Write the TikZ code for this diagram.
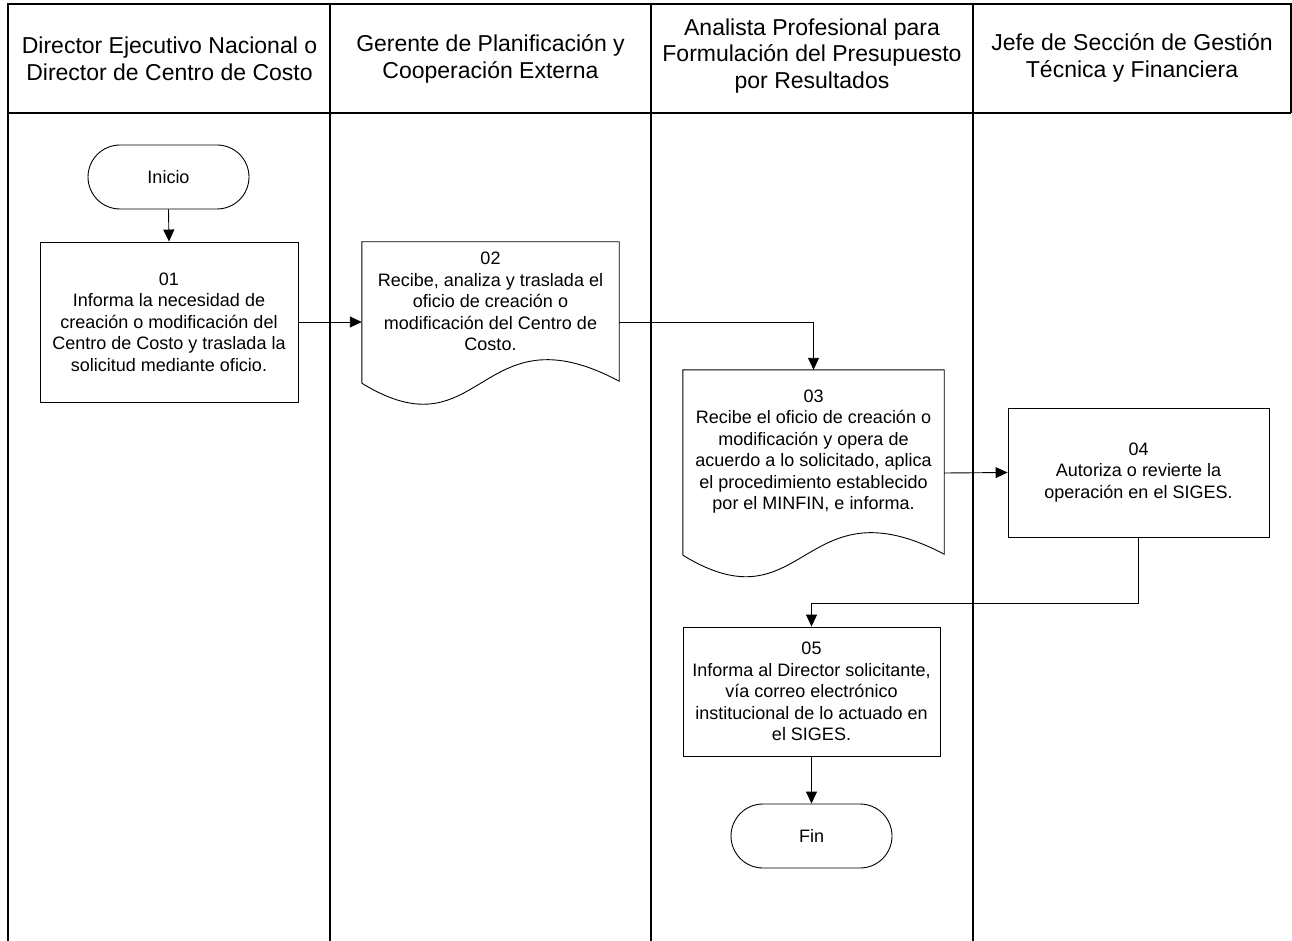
\documentclass[tikz,border=0pt]{standalone}
\usepackage{fontspec}
\setmainfont{Liberation Sans}
\usetikzlibrary{arrows.meta,calc}
\begin{document}
\begin{tikzpicture}[x=1pt,y=-1pt,
  frame/.style={line width=1.1pt, draw=black},
  hdr/.style={font=\fontsize{23}{26.5}\selectfont, align=center, inner sep=0pt},
  body/.style={font=\fontsize{18}{21.5}\selectfont, align=center},
  box/.style={body, draw, rectangle, line width=0.9pt, inner sep=0pt},
  term/.style={body, draw, rectangle, rounded corners=32pt, line width=0.9pt, minimum width=161pt, minimum height=64pt},
  docframe/.style={rectangle, inner sep=0pt},
  outline/.style={line width=0.9pt},
  link/.style={line width=0.9pt},
  arr/.style={line width=0.9pt, -{Triangle[length=12pt,width=11pt]}}]
\useasboundingbox (0,0) rectangle (1292,941);
% swimlane frame
\draw[frame] (8,941) -- (8,4) -- (1291,4) -- (1291,113);
\draw[frame] (8,113) -- (1291,113);
\draw[frame] (330,4) -- (330,941);
\draw[frame] (651,4) -- (651,941);
\draw[frame] (973,4) -- (973,941);
% headers
\node[hdr] (h1) at (169.5,59) {Director Ejecutivo Nacional o\\Director de Centro de Costo};
\node[hdr] (h2) at (490.5,59) {Gerente de Planificación y\\Cooperación Externa};
\node[hdr] (h3) at (812,56) {Analista Profesional para\\Formulación del Presupuesto\\por Resultados};
\node[hdr] (h4) at (1132,58) {Jefe de Sección de Gestión\\Técnica y Financiera};
% nodes
\node[term] (ini) at (168.5,177) {Inicio};
\node[box, minimum width=258pt, minimum height=160pt] (d01) at (169,322)
  {01\\Informa la necesidad de\\creación o modificación del\\Centro de Costo y traslada la\\solicitud mediante oficio.};
\node[docframe, minimum width=257pt, minimum height=160pt] (d02) at (490.5,322) {};
\node[body] (t02) at (490.5,301.5) {02\\Recibe, analiza y traslada el\\oficio de creación o\\modificación del Centro de\\Costo.};
\draw[outline] ($(d02.south west)+(0,-19)$) -- (d02.north west) -- (d02.north east) -- ($(d02.south east)+(0,-21)$)
  .. controls ($(d02.south)+(-12,-96)$) and ($(d02.south)+(-8,55)$) .. ($(d02.south west)+(0,-19)$);
\node[docframe, minimum width=261pt, minimum height=206pt] (d03) at (813.5,473) {};
\node[body] (t03) at (813.5,451.5) {03\\Recibe el oficio de creación o\\modificación y opera de\\acuerdo a lo solicitado, aplica\\el procedimiento establecido\\por el MINFIN, e informa.};
\draw[outline] ($(d03.south west)+(0,-21)$) -- (d03.north west) -- (d03.north east) -- ($(d03.south east)+(0,-22)$)
  .. controls ($(d03.south)+(-12,-97)$) and ($(d03.south)+(-8,54)$) .. ($(d03.south west)+(0,-21)$);
\node[box, minimum width=261pt, minimum height=129pt] (d04) at (1138.5,472.5)
  {04\\Autoriza o revierte la\\operación en el SIGES.};
\node[box, minimum width=257pt, minimum height=129pt] (d05) at (811.5,691.5)
  {05\\Informa al Director solicitante,\\vía correo electrónico\\institucional de lo actuado en\\el SIGES.};
\node[term] (fin) at (811.5,836) {Fin};
% connectors
\draw[arr] (ini.south) -- (d01.north);
\draw[arr] (d01.east) -- (d02.west);
\draw[arr] (d02.east) -| (d03.north);
\draw[arr] (d03.east) -- (d04.west);
\coordinate (bend) at (1138.5,603);
\draw[arr] (d04.south) -- (bend) -| (d05.north);
\draw[arr] (d05.south) -- (fin.north);
\end{tikzpicture}
\end{document}
